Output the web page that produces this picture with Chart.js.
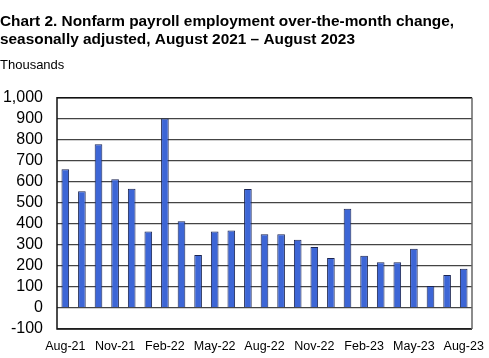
<!DOCTYPE html>
<html>
<head>
<meta charset="utf-8">
<script src="https://cdn.jsdelivr.net/npm/chart.js@4"></script>
<style>
  body { margin: 0; background: #fff; }
  #wrap { width: 489px; height: 358px; position: relative; }
</style>
</head>
<body>
<div id="wrap"><canvas id="payrollChart"></canvas></div>
<script>
const months = ['Aug-21','Sep-21','Oct-21','Nov-21','Dec-21','Jan-22','Feb-22','Mar-22','Apr-22','May-22','Jun-22','Jul-22',
  'Aug-22','Sep-22','Oct-22','Nov-22','Dec-22','Jan-23','Feb-23','Mar-23','Apr-23','May-23','Jun-23','Jul-23','Aug-23'];
const payrollChange = [660, 555, 778, 612, 567, 363, 901, 412, 252, 363, 368, 566,
  351, 350, 324, 290, 238, 472, 248, 217, 217, 281, 105, 157, 187];
const yMin = -100;
const yMax = 1000;

// box around the plot area, like the original
const frame = {
  id: 'frame',
  afterDraw(chart) {
    const a = chart.chartArea;
    const ctx = chart.ctx;
    ctx.save();
    ctx.lineWidth = 1.5;
    ctx.strokeStyle = '#111';
    ctx.beginPath();
    ctx.moveTo(a.right, a.top);
    ctx.lineTo(a.left, a.top);
    ctx.lineTo(a.left, a.bottom);
    ctx.lineTo(a.right, a.bottom);
    ctx.stroke();
    ctx.strokeStyle = '#666';
    ctx.beginPath();
    ctx.moveTo(a.right, a.top);
    ctx.lineTo(a.right, a.bottom);
    ctx.stroke();
    ctx.restore();
  }
};

new Chart(document.getElementById('payrollChart'), {
  type: 'bar',
  data: {
    labels: months,
    datasets: [{
      data: payrollChange,
      backgroundColor: '#3d66d6',
      borderColor: '#1b2552',
      borderWidth: 1,
      categoryPercentage: 1,
      barPercentage: 0.46
    }]
  },
  options: {
    responsive: true,
    maintainAspectRatio: false,
    animation: false,
    layout: { padding: { left: 0, right: 17, top: 2, bottom: 0 } },
    plugins: {
      legend: { display: false },
      tooltip: { enabled: false },
      title: {
        display: true,
        align: 'start',
        text: ['Chart 2. Nonfarm payroll employment over-the-month change,', 'seasonally adjusted, August 2021 \u2013 August 2023'],
        color: '#000',
        font: { family: 'Liberation Sans', size: 15.4, weight: 'bold', lineHeight: 1.17 },
        padding: { top: 11, bottom: 6 }
      },
      subtitle: {
        display: true,
        align: 'start',
        text: 'Thousands',
        color: '#000',
        font: { family: 'Liberation Sans', size: 13 },
        padding: { top: 3, bottom: 24 }
      }
    },
    scales: {
      x: {
        grid: { display: false, drawTicks: false },
        border: { display: false },
        afterFit: function(scale) {
          scale.height = 29;
          scale.paddingLeft = 0;
          scale.paddingRight = 0;
        },
        ticks: {
          autoSkip: false,
          maxRotation: 0,
          color: '#000',
          padding: 10,
          font: { family: 'Liberation Sans', size: 12.5 },
          callback: function(v, i) { return i % 3 === 0 ? months[i] : ''; }
        }
      },
      y: {
        min: yMin,
        max: yMax,
        grid: { color: '#444', lineWidth: 1.2, drawTicks: false },
        border: { display: false },
        afterFit: function(scale) { scale.width = 57; },
        ticks: {
          autoSkip: false,
          stepSize: 100,
          color: '#000',
          padding: 14,
          font: { family: 'Liberation Sans', size: 16 },
          callback: function(v) { return v.toLocaleString('en-US'); }
        }
      }
    }
  },
  plugins: [frame]
});
</script>
</body>
</html>
